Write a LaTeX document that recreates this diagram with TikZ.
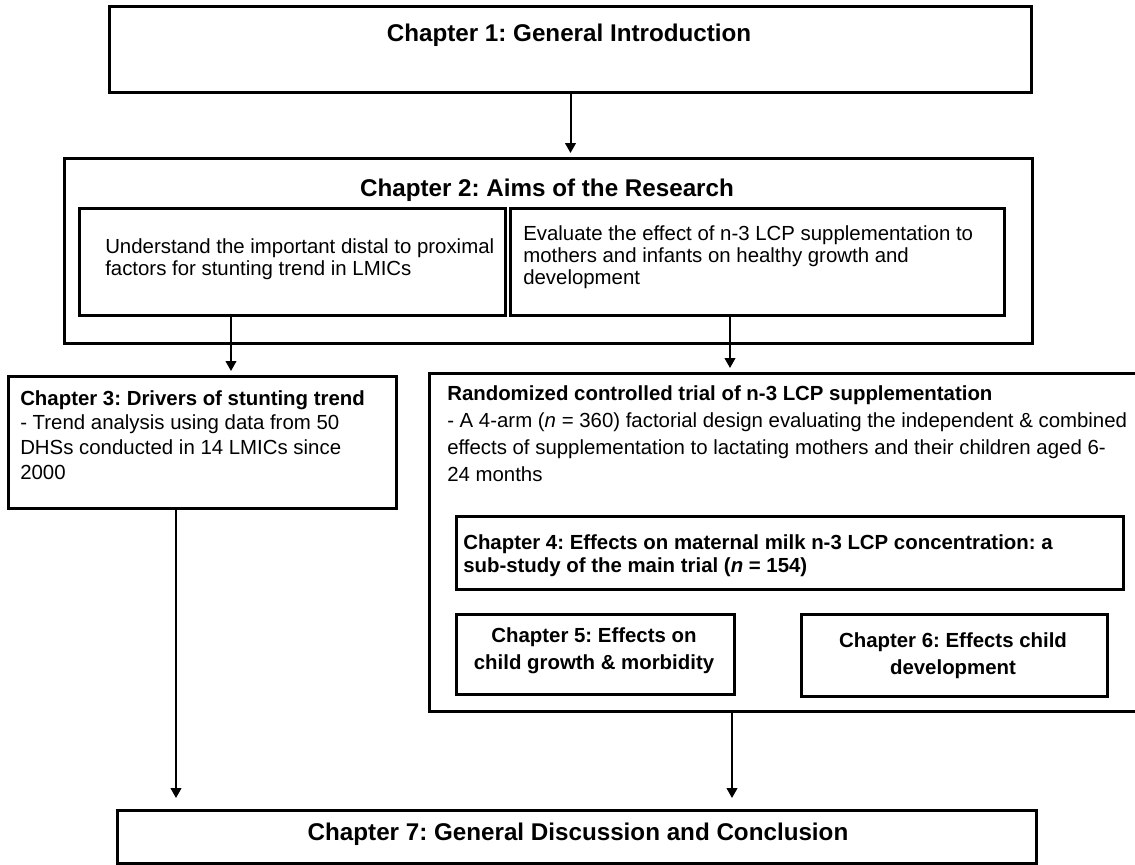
\documentclass[tikz,border=0pt]{standalone}
\usepackage{fontspec}
\setmainfont{Liberation Sans}
\usetikzlibrary{arrows.meta}
\frenchspacing
\begin{document}
\begin{tikzpicture}[x=0.75pt,y=-0.75pt,
  box/.style={draw, line width=2.25pt, inner sep=0pt, anchor=north west},
  outerbox/.style={box, line width=2.6pt},
  sz/.style 2 args={minimum width=#1*0.75pt, minimum height=#2*0.75pt},
  ttl/.style={font=\fontsize{18.15pt}{20pt}\selectfont\bfseries, inner sep=0pt, anchor=north},
  body/.style={font=\fontsize{15.3pt}{16.5pt}\selectfont, inner sep=0pt, anchor=north west, align=left},
  arr/.style={line width=1.5pt, -{Triangle[width=8pt,length=7.5pt]}}]
\useasboundingbox (0,0) rectangle (1135,864);
% boxes
\node[box, sz={922}{86}] (ch1) at (108,5) {};
\node[outerbox, sz={968}{185}] (ch2) at (63,157) {};
\node[box, sz={426}{107}] (inL) at (78,207) {};
\node[box, sz={494}{107}] (inR) at (509,207) {};
\node[box, sz={388}{132}] (ch3) at (7,375) {};
\node[outerbox, sz={717}{338}] (rct) at (428,372) {};
\node[box, sz={667}{73}] (ch4) at (455,515) {};
\node[box, sz={278}{80}] (ch5) at (455,613) {};
\node[box, sz={306}{82}] (ch6) at (800,613) {};
\node[box, sz={919}{53}] (ch7) at (116,809) {};
% texts
\node[ttl] (t1) at (569,24) {Chapter 1: General Introduction};
\node[ttl] (t2) at (547,179) {Chapter 2: Aims of the Research};
\node[body] (tL) at (105,238) {Understand the important distal to proximal\\factors for stunting trend in LMICs};
\node[body] (tR) at (523,225) {Evaluate the effect of n-3 LCP supplementation to\\mothers and infants on healthy growth and\\development};
\node[body, font=\fontsize{15.3pt}{18.5pt}\selectfont] (t3) at (20,390) {\textbf{Chapter 3: Drivers of stunting trend}\\- Trend analysis using data from 50\\DHSs conducted in 14 LMICs since\\2000};
\node[body, font=\fontsize{15.3pt}{20.3pt}\selectfont] (trct) at (447,385) {\textbf{Randomized controlled trial of n-3 LCP supplementation}\\- A 4-arm (\textit{n} = 360) factorial design evaluating the independent \& combined\\effects of supplementation to lactating mothers and their children aged 6-\\24 months};
\node[body, font=\fontsize{15.3pt}{17.25pt}\selectfont\bfseries] (t4) at (463,534) {Chapter 4: Effects on maternal milk n-3 LCP concentration: a\\sub-study of the main trial (\textit{n} = 154)};
\node[body, align=center, anchor=north, font=\fontsize{15.3pt}{20.3pt}\selectfont\bfseries] (t5) at (594,627) {Chapter 5: Effects on\\child growth \& morbidity};
\node[body, align=center, anchor=north, font=\fontsize{15.3pt}{20.3pt}\selectfont\bfseries] (t6) at (953,632) {Chapter 6: Effects child\\development};
\node[ttl] (t7) at (578,823) {Chapter 7: General Discussion and Conclusion};
% connector anchors
\coordinate (p2) at ([xshift=153*0.75pt]inL.south west);
\coordinate (p3) at ([xshift=221*0.75pt]inR.south west);
\coordinate (p4) at ([xshift=169*0.75pt]ch3.south west);
\coordinate (p5) at ([xshift=304*0.75pt]rct.south west);
% arrows
\draw[arr, shorten >=3pt] (ch1.south) -- (ch1.south |- ch2.north);
\draw[arr, shorten >=3pt] (p2) -- (p2 |- ch3.north);
\draw[arr, shorten >=3pt] (p3) -- (p3 |- rct.north);
\draw[arr, shorten >=8.25pt] (p4) -- (p4 |- ch7.north);
\draw[arr, shorten >=8.25pt] (p5) -- (p5 |- ch7.north);
\end{tikzpicture}
\end{document}
